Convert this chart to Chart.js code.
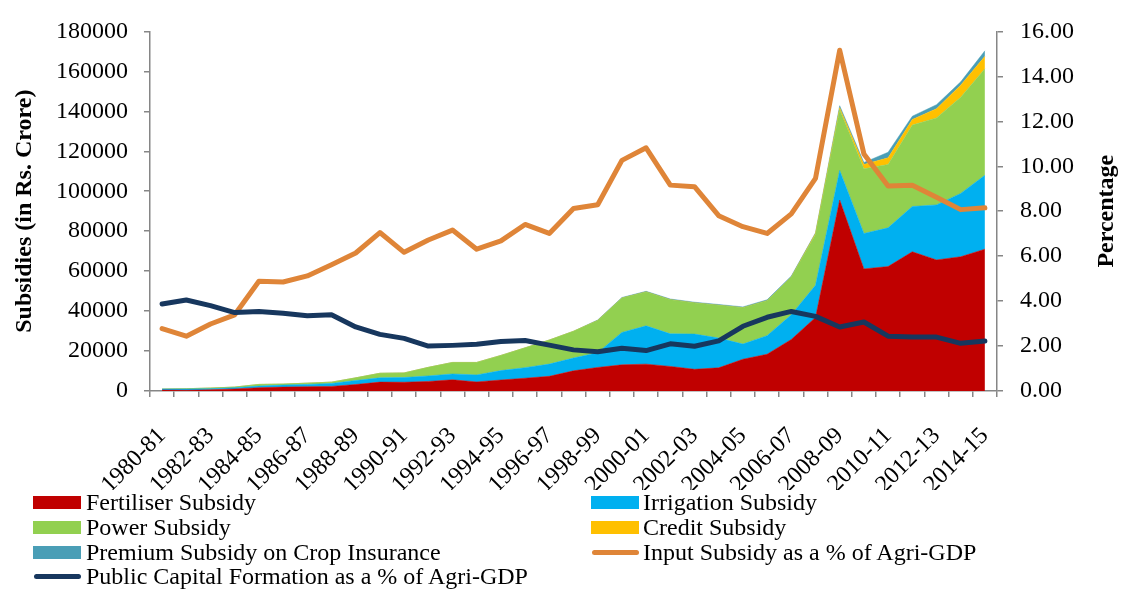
<!DOCTYPE html>
<html>
<head>
<meta charset="utf-8">
<script src="https://cdn.jsdelivr.net/npm/chart.js@4/dist/chart.umd.min.js"></script>
<style>
  html, body { margin: 0; padding: 0; background: #fff; }
  #wrap { position: relative; width: 1121px; height: 590px; overflow: hidden; }
  #box { position: absolute; left: 0; top: 0; width: 1121px; height: 490px; }
  #legend { position: absolute; left: 0; top: 0; width: 1121px; height: 590px; pointer-events: none;
            font-family: "Liberation Serif", "Times New Roman", serif; font-size: 24px; color: #000; }
  .item { position: absolute; height: 25px; line-height: 25px; white-space: nowrap; }
  .key { position: absolute; left: 0; }
  .txt { position: absolute; }
</style>
</head>
<body>
<div id="wrap">
  <div id="box"><canvas id="chart"></canvas></div>
  <div id="legend"></div>
</div>
<script>
// categories
const years = ['1980-81','1981-82','1982-83','1983-84','1984-85','1985-86','1986-87','1987-88',
  '1988-89','1989-90','1990-91','1991-92','1992-93','1993-94','1994-95','1995-96','1996-97',
  '1997-98','1998-99','1999-00','2000-01','2001-02','2002-03','2003-04','2004-05','2005-06',
  '2006-07','2007-08','2008-09','2009-10','2010-11','2011-12','2012-13','2013-14','2014-15'];

// subsidies, Rs. crore
const fertiliser = [505, 381, 604, 1048, 1650, 1950, 2150, 2300, 3250, 4450, 4400, 4800, 5600, 4550,
  5500, 6400, 7350, 10100, 11800, 13100, 13450, 12300, 10850, 11600, 15900, 18400, 25800, 36800,
  95600, 61100, 62300, 69700, 65600, 67200, 71000];
const irrigation = [485, 609, 546, 592, 810, 1010, 1140, 1480, 2010, 2120, 2340, 2760, 2940, 3500,
  4700, 5300, 6120, 6400, 7400, 16200, 19150, 16300, 17650, 14900, 7600, 9300, 12320, 16100,
  14800, 17760, 19360, 22640, 27560, 31710, 36950];
const power = [0, 160, 330, 330, 830, 490, 650, 660, 1310, 2300, 2300, 4270, 5750, 6240,
  7600, 9900, 12030, 13400, 16100, 17200, 17000, 17100, 15600, 16400, 18200, 17500, 18890, 25470,
  30400, 32340, 31740, 40760, 43540, 48090, 53350];
const credit = [0, 0, 0, 0, 0, 0, 0, 0, 0, 0, 0, 0, 0, 0,
  0, 0, 0, 0, 0, 0, 0, 0, 0, 0, 0, 0, 0, 500,
  1000, 2200, 3300, 2800, 4600, 6100, 6200];
const premium = [0, 0, 0, 0, 0, 0, 0, 0, 0, 0, 0, 0, 0, 0,
  0, 0, 0, 0, 250, 300, 300, 350, 350, 400, 400, 450, 500, 300,
  1000, 1000, 2800, 1640, 2000, 1640, 2800];

// percentages of Agri-GDP
const inputSubsidyPct = [2.78, 2.44, 2.98, 3.39, 4.88, 4.85, 5.12, 5.62, 6.14, 7.05, 6.17, 6.72,
  7.16, 6.31, 6.68, 7.41, 7.01, 8.12, 8.29, 10.26, 10.82, 9.16, 9.09, 7.80, 7.31, 7.01, 7.88,
  9.46, 15.16, 10.55, 9.12, 9.15, 8.62, 8.07, 8.15];
const capitalFormationPct = [3.87, 4.05, 3.80, 3.49, 3.54, 3.46, 3.35, 3.39, 2.85, 2.52, 2.34, 2.00,
  2.03, 2.08, 2.20, 2.25, 2.04, 1.83, 1.75, 1.90, 1.80, 2.10, 1.99, 2.23, 2.88, 3.28, 3.54,
  3.32, 2.85, 3.07, 2.44, 2.40, 2.40, 2.12, 2.22];

const FONT = '"Liberation Serif", "Times New Roman", serif';
const AXIS = '#868686';

function area(label, data, color, first) {
  return {
    type: 'line', label, data, yAxisID: 'y', order: 2,
    backgroundColor: color, borderColor: color, borderWidth: 0.5,
    pointRadius: 0, fill: first ? 'origin' : '-1', tension: 0
  };
}
function line(label, data, color, order) {
  return {
    type: 'line', label, data, yAxisID: 'y2', order,
    borderColor: color, backgroundColor: color, borderWidth: 5,
    borderJoinStyle: 'round', borderCapStyle: 'round',
    pointRadius: 0, fill: false, tension: 0
  };
}

const datasets = [
  area('Fertiliser Subsidy', fertiliser, '#C00000', true),
  area('Irrigation Subsidy', irrigation, '#00B0F0'),
  area('Power Subsidy', power, '#92D050'),
  area('Credit Subsidy', credit, '#FFC000'),
  area('Premium Subsidy on Crop Insurance', premium, '#4A9EB6'),
  line('Input Subsidy as a % of Agri-GDP', inputSubsidyPct, '#DF8538', 1),
  line('Public Capital Formation as a % of Agri-GDP', capitalFormationPct, '#17375E', 0)
];

// right axis title reads bottom-to-top, like the left one
const rightTitle = {
  id: 'rightTitle',
  afterDraw(chart) {
    const ctx = chart.ctx;
    const a = chart.chartArea;
    ctx.save();
    ctx.translate(1107, (a.top + a.bottom) / 2);
    ctx.rotate(-Math.PI / 2);
    ctx.font = 'bold 24px ' + FONT;
    ctx.fillStyle = '#000';
    ctx.textAlign = 'center';
    ctx.textBaseline = 'middle';
    ctx.fillText('Percentage', 0, 0);
    ctx.restore();
  }
};

new Chart(document.getElementById('chart'), {
  type: 'line',
  data: { labels: years, datasets },
  plugins: [rightTitle],
  options: {
    responsive: true,
    maintainAspectRatio: false,
    animation: false,
    layout: { padding: { top: 26, left: 0, right: 0, bottom: 0 } },
    plugins: { legend: { display: false }, tooltip: { enabled: false } },
    scales: {
      x: {
        offset: true,
        grid: { display: true, offset: true, drawOnChartArea: false, drawTicks: true,
                tickLength: 6, color: AXIS, lineWidth: 1.5 },
        border: { display: true, color: AXIS, width: 1.5 },
        ticks: {
          autoSkip: false, minRotation: 45, maxRotation: 45, padding: 25,
          color: '#000', font: { family: FONT, size: 24 },
          callback: (v, i) => (i % 2 === 0 ? years[i] : '')
        },
        afterFit: s => { s.height = 99; }
      },
      y: {
        stacked: true, min: 0, max: 180000,
        grid: { display: true, drawOnChartArea: false, tickLength: 6, color: AXIS, lineWidth: 1.5 },
        border: { display: true, color: AXIS, width: 1.5 },
        ticks: { stepSize: 20000, padding: 16, color: '#000', font: { family: FONT, size: 24 },
                 callback: v => String(v) },
        title: { display: true, text: 'Subsidies (in Rs. Crore)', color: '#000',
                 padding: { top: 10, bottom: 0 },
                 font: { family: FONT, size: 24, weight: 'bold' } },
        afterFit: s => { s.width = 150; }
      },
      y2: {
        position: 'right', stacked: false, min: 0, max: 16,
        grid: { display: true, drawOnChartArea: false, tickLength: 6, color: AXIS, lineWidth: 1.5 },
        border: { display: true, color: AXIS, width: 1.5 },
        ticks: { stepSize: 2, padding: 17, color: '#000', font: { family: FONT, size: 24 },
                 callback: v => Number(v).toFixed(2) },
        afterFit: s => { s.width = 124; }
      }
    }
  }
});

// legend in two columns, built from the datasets
const leg = document.getElementById('legend');
datasets.forEach((ds, n) => {
  const col = n % 2, row = Math.floor(n / 2);
  const item = document.createElement('div');
  item.className = 'item';
  item.style.left = (col ? 591 : 33) + 'px';
  item.style.top = (490 + row * 24.8) + 'px';
  const key = document.createElement('div');
  key.className = 'key';
  if (ds.fill === false) {
    key.style.top = '10px'; key.style.left = '1px';
    key.style.width = '47px'; key.style.height = '5px';
    key.style.borderRadius = '3px';
  } else {
    key.style.top = '6px'; key.style.width = '48px'; key.style.height = '13px';
  }
  key.style.background = ds.borderColor;
  const txt = document.createElement('span');
  txt.className = 'txt';
  txt.style.left = (col ? 52 : 53) + 'px';
  txt.textContent = ds.label;
  item.appendChild(key);
  item.appendChild(txt);
  leg.appendChild(item);
});
</script>
</body>
</html>
